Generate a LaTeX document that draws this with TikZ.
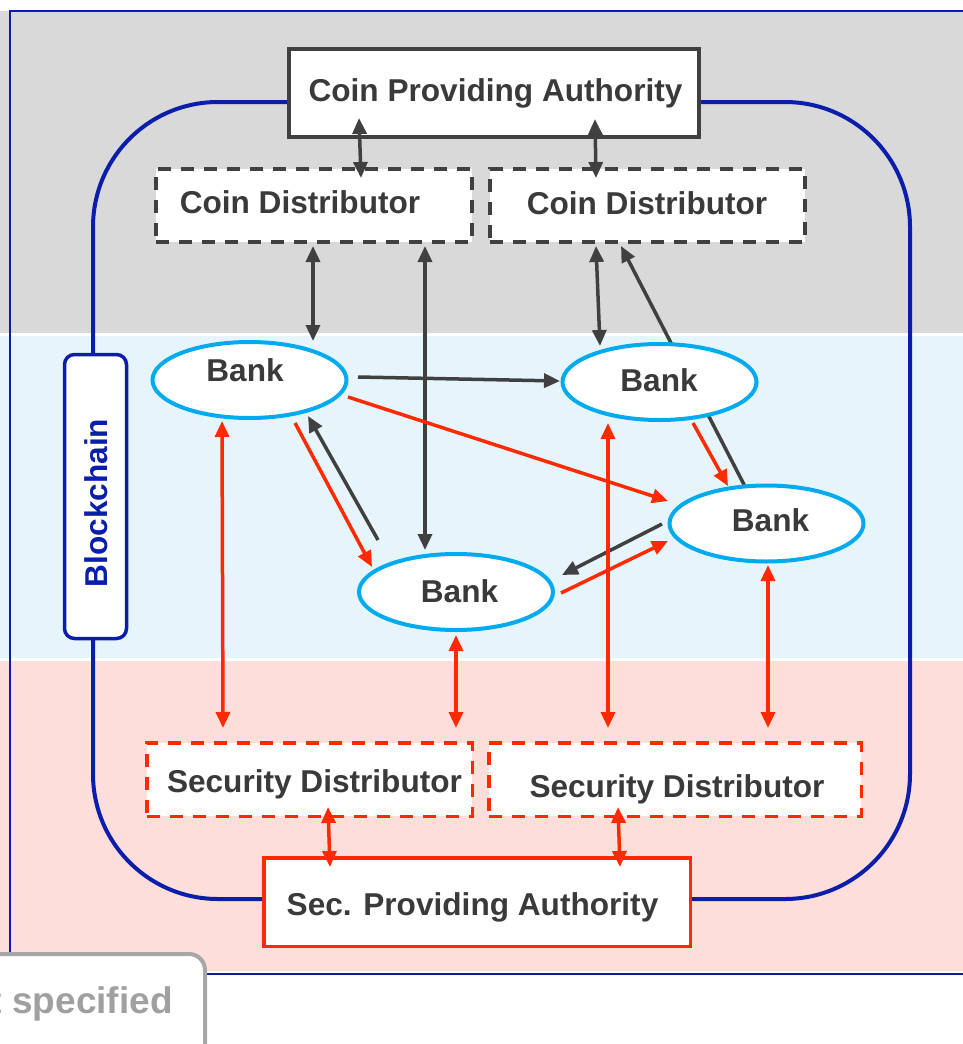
\documentclass[tikz,border=0pt]{standalone}
\usepackage{fontspec}
\setmainfont{Liberation Sans}
\usetikzlibrary{arrows.meta,calc,shapes.geometric}
\pgfdeclarelayer{back}
\pgfdeclarelayer{mid}
\pgfsetlayers{back,mid,main}

\definecolor{bandgray}{HTML}{D9D9D9}
\definecolor{bandblue}{HTML}{E6F5FC}
\definecolor{bandpink}{HTML}{FDDEDA}
\definecolor{chainblue}{HTML}{0A1EAA}
\definecolor{ink}{HTML}{404040}
\definecolor{txt}{HTML}{3A3A3A}
\definecolor{alarm}{HTML}{FF2A00}
\definecolor{bankblue}{HTML}{00AAEE}
\definecolor{mute}{HTML}{A6A6A6}
\definecolor{mutetext}{HTML}{A0A0A0}

\tikzset{
  Tp/.tip={Triangle[length=16pt,width=14pt]},
  lbl/.style={font=\fontsize{31.6}{37}\selectfont\bfseries, text=txt, inner sep=0pt, anchor=base},
  solidbox/.style={rectangle, draw=ink, line width=4pt, fill=white, inner sep=0pt},
  dashbox/.style={rectangle, draw=ink, line width=4pt, fill=white, inner sep=0pt, dash pattern=on 13pt off 10pt},
  reddash/.style={rectangle, draw=alarm, line width=3.5pt, fill=white, inner sep=0pt, dash pattern=on 13pt off 10pt},
  redbox/.style={rectangle, draw=alarm, line width=3.5pt, fill=white, inner sep=0pt},
  bank/.style={ellipse, draw=bankblue, line width=4pt, fill=white, inner sep=0pt, minimum width=194pt, minimum height=76pt},
  inkline/.style={draw=ink, line width=3.5pt},
  redline/.style={draw=alarm, line width=3.5pt},
  both/.style={Tp-Tp},
  one/.style={-Tp}
}

\begin{document}
\begin{tikzpicture}[x=1pt,y=-1pt]
\useasboundingbox (0,0) rectangle (963,1044);
\clip (0,0) rectangle (963,1044);

% horizontal bands, outer frame and the blockchain loop
\begin{pgfonlayer}{back}
  \fill[bandgray] (0,11) rectangle (963,333);
  \fill[bandblue] (0,336) rectangle (963,658);
  \fill[bandpink] (0,661) rectangle (963,971);
  \draw[chainblue, line width=2.5pt] (963,11) -- (10,11) -- (10,974) -- (963,974);
  \draw[chainblue, line width=4pt, rounded corners=125pt] (93,102) rectangle (910,899);
\end{pgfonlayer}

% authorities and distributors
\node[solidbox, minimum width=410pt, minimum height=88pt] (cpa) at (494,93) {};
\node[dashbox, minimum width=316pt, minimum height=73pt] (cd1) at (314,205.5) {};
\node[dashbox, minimum width=315pt, minimum height=73pt] (cd2) at (647.5,205.5) {};
\node[reddash, minimum width=325.5pt, minimum height=73.5pt] (sd1) at (309.5,779.5) {};
\node[reddash, minimum width=372.5pt, minimum height=73.5pt] (sd2) at (675,779.5) {};
\node[redbox, minimum width=426.5pt, minimum height=88.5pt] (spa) at (477,902) {};

\node[lbl] (cpat) at (495.5,101) {Coin Providing Authority};
\node[lbl] (cd1t) at (300,213) {Coin Distributor};
\node[lbl] (cd2t) at (647,214) {Coin Distributor};
\node[lbl] (sd1t) at (314.5,792) {Security Distributor};
\node[lbl] (sd2t) at (677,797) {Security Distributor};
\node[lbl] (spat) at (472.5,915) {Sec. Providing Authority};

% blockchain marker on the loop
\node[rectangle, draw=chainblue, line width=3.5pt, fill=white, rounded corners=10pt,
      minimum width=62pt, minimum height=284pt, inner sep=0pt] (bc) at (95.5,496.5) {};
\node[lbl, text=chainblue, rotate=90, anchor=center] (bct) at (96,503) {Blockchain};

% banks
\node[bank] (b1) at (249.5,380) {};
\node[bank] (b2) at (659.5,382) {};
\node[bank] (b3) at (766.5,523.5) {};
\node[bank] (b4) at (456,592) {};
\node[lbl] (b1t) at (245,381.5) {Bank};
\node[lbl] (b2t) at (659,391) {Bank};
\node[lbl] (b3t) at (770.5,531) {Bank};
\node[lbl] (b4t) at (459.5,602) {Bank};

% coin flow from the bank on the right, passing beneath the upper bank
\begin{pgfonlayer}{mid}
  \draw[inkline, one] ($(b3)+(-22,-38)$) -- ($(cd2)+(-26.5,40.5)$);
\end{pgfonlayer}

% coin flows
\draw[inkline, both] ($(cpa)+(-135,25)$) -- ($(cd1)+(47,-27.5)$);
\draw[inkline, both] ($(cpa)+(101,26)$) -- ($(cd2)+(-51.5,-27.5)$);
\draw[inkline, both] ($(cd1)+(-1,40.5)$) -- ($(b1)+(63.5,-39)$);
\draw[inkline, both] ($(cd1)+(111,40.5)$) -- ($(b4)+(-31,-42)$);
\draw[inkline, both] ($(cd2)+(-51.5,40.5)$) -- ($(b2)+(-59.5,-36)$);
\draw[inkline, one] ($(b1)+(108.5,-3)$) -- ($(b2)+(-99.5,-1)$);
\draw[inkline, one] ($(b4)+(-78,-52)$) -- ($(b1)+(58.5,36)$);
\draw[inkline, one] ($(b3)+(-104.5,0.5)$) -- ($(b4)+(106,-17)$);

% security flows
\draw[redline, one] ($(b1)+(98.5,17)$) -- ($(b3)+(-98.5,-22.5)$);
\draw[redline, one] ($(b1)+(45.5,43)$) -- ($(b4)+(-84,-25)$);
\draw[redline, one] ($(b2)+(33.5,41)$) -- ($(b3)+(-38.5,-37.5)$);
\draw[redline, one] ($(b4)+(105,1)$) -- ($(b3)+(-98.5,17.5)$);
\draw[redline, both] ($(b1)+(-27.5,41)$) -- ($(sd1)+(-86.5,-51.5)$);
\draw[redline, both] ($(b4)+(0,43)$) -- ($(sd1)+(146.5,-51.5)$);
\draw[redline, both] ($(b2)+(-51.5,41)$) -- ($(sd2)+(-67,-51.5)$);
\draw[redline, both] ($(b3)+(1.5,41.5)$) -- ($(sd2)+(93,-51.5)$);
\draw[redline, both] ($(sd1)+(18.5,27.5)$) -- ($(spa)+(-147,-35)$);
\draw[redline, both] ($(sd2)+(-57,27.5)$) -- ($(spa)+(143,-35)$);

% legend entry in the lower left corner
\node[rectangle, draw=mute, line width=4pt, fill=white, rounded corners=16pt,
      minimum width=435pt, minimum height=166pt, inner sep=0pt] (ns) at (-12.5,1037) {};
\node[font=\fontsize{37}{44}\selectfont\bfseries, text=mutetext, inner sep=0pt, anchor=base east] (nst) at (173,1013) {Not specified};
\end{tikzpicture}
\end{document}
